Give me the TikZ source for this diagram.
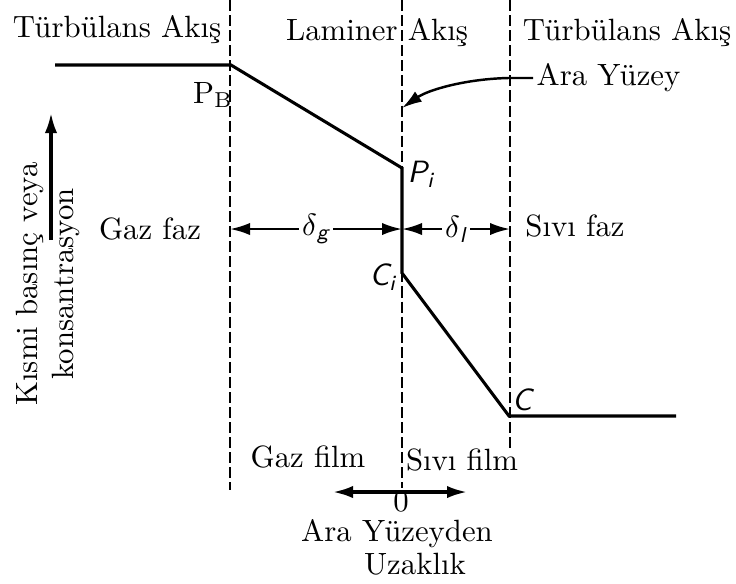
\documentclass[tikz,border=0pt]{standalone}
\usepackage{fontspec}
\usetikzlibrary{arrows.meta, calc}

\begin{document}
\begin{tikzpicture}[
    x=0.325pt, y=-0.325pt,
    % ====================
    % ESTILOS
    % ====================
    boundary/.style={
        thin, draw=black, dash pattern=on 3.6pt off 1.3pt
    },
    profile/.style={
        line width=1pt, draw=black, line join=miter
    },
    dimarrow/.style={
        line width=0.8pt, {Latex[length=6.5pt,width=4pt]}-{Latex[length=6.5pt,width=4pt]}
    },
    pointer/.style={
        line width=0.8pt, -{Latex[length=6.5pt,width=4pt]}
    },
    region_label/.style={
        font=\normalsize, inner sep=1pt
    },
    point_label/.style={
        font=\sffamily\itshape, inner sep=1pt
    }
]

\useasboundingbox (0,0) rectangle (736,583);

% ====================
% SINIRLAR (KESIKLI CIZGILER)
% ====================
\coordinate (L1top) at (230,0);
\coordinate (L1bot) at (230,490);
\coordinate (L2top) at (402,0);
\coordinate (L2bot) at (402,488);
\coordinate (L3top) at (510,0);
\coordinate (L3bot) at (510,450);

\draw[boundary] (L1top) -- (L1bot);
\draw[boundary] (L2top) -- (L2bot);
\draw[boundary] (L3top) -- (L3bot);

% ====================
% PROFIL NOKTALARI
% ====================
\coordinate (gasbulk) at (55,65);
\coordinate (PB) at (231,65);
\coordinate (Pi) at (402,168);
\coordinate (Ci) at (402,273);
\coordinate (C) at (509,416);
\coordinate (liqbulk) at (676,416);

\draw[profile] (gasbulk) -- (PB) -- (Pi) -- (Ci) -- (C) -- (liqbulk);

% Nokta etiketleri
\node[region_label] (PBlab) at (213,95) {P\textsubscript{B}};
\node[point_label] (Pilab) at (421,174) {P\textsubscript{i}};
\node[point_label] (Cilab) at (383,277) {C\textsubscript{i}};
\node[point_label] (Clab) at (522,400) {C};

% ====================
% BOLGE BASLIKLARI
% ====================
\node[region_label] (turbgas) at (117,30) {Türbülans Akış};
\node[region_label] (laminar) at (377,33) {Laminer Akış};
\node[region_label] (turbliq) at (627,33) {Türbülans Akış};
\node[region_label] (gasphase) at (150,229) {Gaz faz};
\node[region_label] (liqphase) at (575,226) {Sıvı faz};
\node[region_label] (gasfilm) at (308,457) {Gaz film};
\node[region_label] (liqfilm) at (462,460) {Sıvı film};

% ====================
% ARA YUZEY OKU
% ====================
\node[region_label, anchor=west] (interface) at (533,78) {Ara Yüzey};
\coordinate (ifc) at (402,108);
\draw[pointer] (interface.west) -- (508,78) .. controls (465,79) and (428,90) .. (ifc);

% ====================
% FILM KALINLIKLARI
% ====================
\coordinate (dgL) at (230,229);
\coordinate (dgR) at (402,229);
\coordinate (dlL) at (402,229);
\coordinate (dlR) at (510,229);

\draw[dimarrow] (dgL) -- node[fill=white, inner sep=1pt] {$\delta$\textsubscript{\sffamily\itshape g}} (dgR);
\draw[dimarrow] (dlL) -- node[fill=white, inner sep=1pt] {$\delta$\textsubscript{\sffamily\itshape l}} (dlR);

% ====================
% EKSENLER
% ====================
\coordinate (ybot) at (51,240);
\coordinate (ytop) at (51,113);
\draw[pointer, line width=1pt] (ybot) -- (ytop);
\node[region_label, rotate=90, align=center] (ylab) at (48,284) {Kısmi basınç veya\\konsantrasyon};

\coordinate (xleft) at (333,492);
\coordinate (xright) at (467,492);
\draw[dimarrow, line width=1pt] (xleft) -- (xright);
\node[region_label, inner sep=0pt] (zero) at (401,502) {0};
\node[region_label, inner sep=0pt] (xlab) at (397,534) {Ara Yüzeyden};
\node[region_label, inner sep=0pt] (xlab2) at (415,564) {Uzaklık};

\end{tikzpicture}
\end{document}
